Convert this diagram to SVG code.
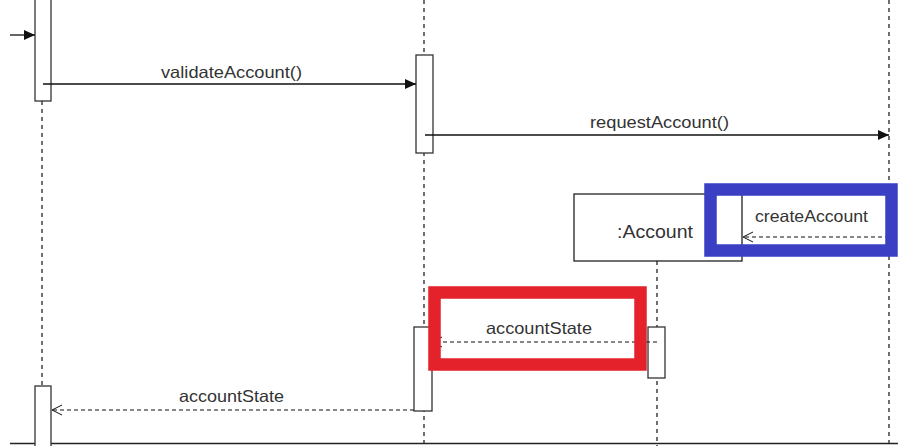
<svg xmlns="http://www.w3.org/2000/svg" width="898" height="446" viewBox="0 0 898 446">
<style>
.life{stroke:#111;stroke-width:1.2;stroke-dasharray:4 4;fill:none}
.act{fill:#fff;stroke:#333;stroke-width:1.3}
.msg{stroke:#111;stroke-width:1.3;fill:none}
.ret{stroke:#111;stroke-width:1.2;stroke-dasharray:4 3;fill:none}
text{font-family:"Liberation Sans",Arial,sans-serif;font-size:16.5px;fill:#333}
</style>
<defs>
<marker id="filled" markerWidth="12" markerHeight="10" refX="11" refY="5" orient="auto" markerUnits="userSpaceOnUse">
<path d="M0,0 L11,5 L0,10 Z" fill="#111"/>
</marker>
<marker id="open" markerWidth="12" markerHeight="12" refX="10" refY="6" orient="auto" markerUnits="userSpaceOnUse">
<path d="M0,1 L10,6 L0,11" fill="none" stroke="#111" stroke-width="1"/>
</marker>
</defs>
<rect width="898" height="446" fill="#fff"/>
<g id="lifelines">
<line class="life" x1="42" y1="101" x2="42" y2="386"/>
<line class="life" x1="424" y1="0" x2="424" y2="446"/>
<line class="life" x1="889" y1="0" x2="889" y2="446"/>
<line class="life" x1="657" y1="261" x2="657" y2="446"/>
</g>
<line x1="10" y1="443.5" x2="898" y2="443.5" stroke="#222" stroke-width="1.3"/>
<g id="actLeftTop"><rect class="act" x="35" y="-5" width="16" height="106"/></g>
<g id="actLeftBottom"><rect class="act" x="35" y="386" width="16" height="70"/></g>
<g id="actMidTop"><rect class="act" x="416" y="55" width="17" height="98"/></g>
<g id="actMidBottom"><rect class="act" x="414" y="327" width="18" height="84"/></g>
<g id="actAccount"><rect class="act" x="648" y="327" width="17" height="51"/></g>
<g id="account">
<rect x="574" y="194" width="168" height="67" fill="#fff" stroke="#222" stroke-width="1.3"/>
<text x="617" y="238" textLength="76" lengthAdjust="spacingAndGlyphs" style="font-size:19px">:Account</text>
</g>
<g id="connectors">
<line class="msg" x1="10" y1="35" x2="35" y2="35" marker-end="url(#filled)"/>
<line class="msg" x1="43" y1="84" x2="416" y2="84" marker-end="url(#filled)"/>
<line class="msg" x1="425" y1="135" x2="889" y2="135" marker-end="url(#filled)"/>
<line class="ret" x1="889" y1="237" x2="743" y2="237" marker-end="url(#open)"/>
<line class="ret" x1="657" y1="342" x2="432" y2="342" marker-end="url(#open)"/>
<line class="ret" x1="414" y1="410" x2="52" y2="410" marker-end="url(#open)"/>
</g>
<g id="labels">
<text x="161" y="78" textLength="141" lengthAdjust="spacingAndGlyphs">validateAccount()</text>
<text x="590" y="128" textLength="139" lengthAdjust="spacingAndGlyphs">requestAccount()</text>
<text x="755" y="222" textLength="113" lengthAdjust="spacingAndGlyphs">createAccount</text>
<text x="486" y="334" textLength="106" lengthAdjust="spacingAndGlyphs">accountState</text>
<text x="179" y="402" textLength="105" lengthAdjust="spacingAndGlyphs">accountState</text>
</g>
<g id="highlights">
<rect x="710.5" y="189.5" width="181" height="61" fill="none" stroke="#3a3fc4" stroke-width="12.5"/>
<rect x="434.5" y="292.5" width="206" height="72" fill="none" stroke="#e3222b" stroke-width="12.5"/>
</g>
</svg>
